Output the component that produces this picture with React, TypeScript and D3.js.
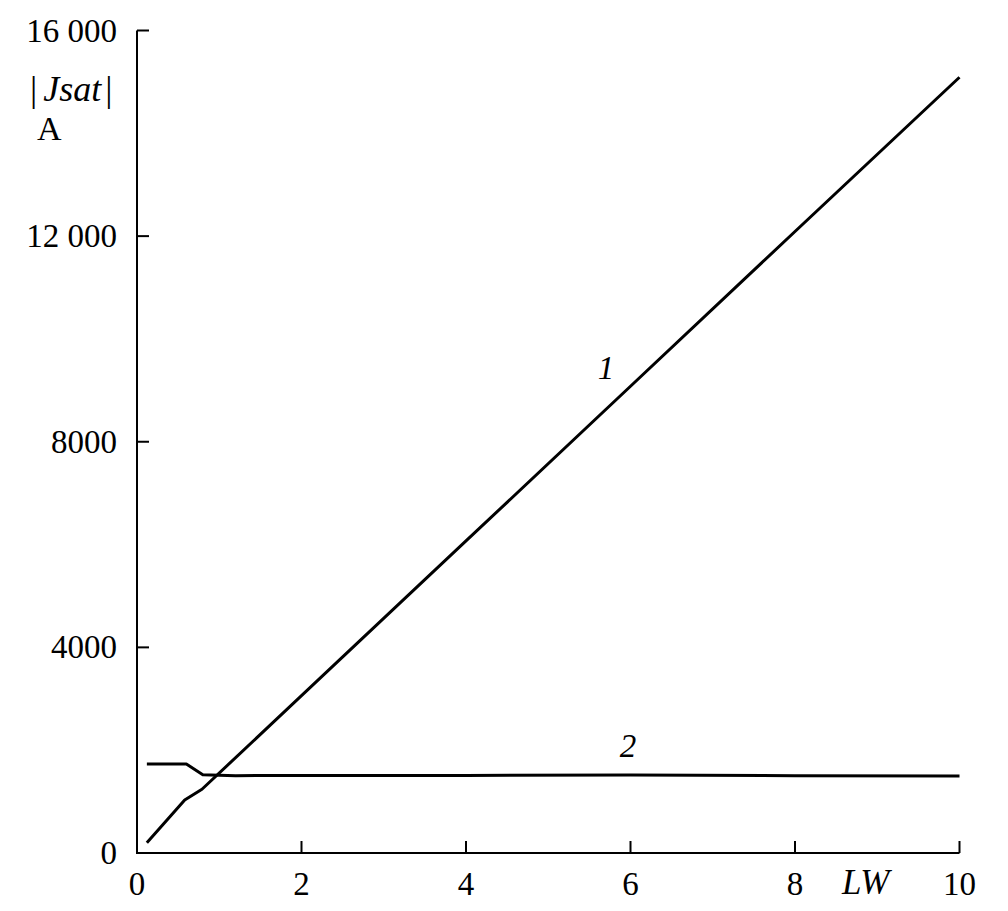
import React from "react";
import * as d3 from "d3";

const curve1X = [0.12, 0.58, 0.79, 2, 4, 6, 8, 10];
const curve1Y = [200, 1030, 1240, 3060, 6070, 9080, 12090, 15090];
const curve2X = [0.12, 0.6, 0.8, 1.2, 2, 4, 6, 8, 10];
const curve2Y = [1730, 1730, 1520, 1505, 1510, 1510, 1515, 1505, 1500];
const xTicks = [0, 2, 4, 6, 8, 10];
const yTicks = [0, 4000, 8000, 12000, 16000];
const yTickLabels = ["0", "4000", "8000", "12 000", "16 000"];

export default function App() {
  const W = 1008, H = 911;
  const x = d3.scaleLinear().domain([0, 10]).range([137, 959.5]);
  const y = d3.scaleLinear().domain([0, 16000]).range([853, 30.5]);
  const line = d3.line<[number, number]>().x(d => x(d[0])).y(d => y(d[1]));
  const d1 = line(curve1X.map((v, i) => [v, curve1Y[i]]) as [number, number][]) || "";
  const d2 = line(curve2X.map((v, i) => [v, curve2Y[i]]) as [number, number][]) || "";
  const font = "'Liberation Serif', 'Times New Roman', serif";
  const fs = 33;
  return (
    <svg width={W} height={H} style={{ position: "absolute", left: 0, top: 0, background: "#fff" }} fontFamily={font}>
      <rect width={W} height={H} fill="#fff" />
      <path d={`M${x(0)},${y(16000)} L${x(0)},${y(0)} L${x(10)},${y(0)}`} fill="none" stroke="#000" strokeWidth={2} />
      {yTicks.slice(1).map(t => (
        <line key={"yt" + t} x1={x(0)} x2={x(0) + 12} y1={y(t)} y2={y(t)} stroke="#000" strokeWidth={2} />
      ))}
      {xTicks.slice(1).map(t => (
        <line key={"xt" + t} x1={x(t)} x2={x(t)} y1={y(0)} y2={y(0) - 12} stroke="#000" strokeWidth={2} />
      ))}
      {yTicks.map((t, i) => (
        <text key={"yl" + t} x={117} y={y(t) + 11} textAnchor="end" fontSize={fs}>{yTickLabels[i]}</text>
      ))}
      {xTicks.map(t => (
        <text key={"xl" + t} x={x(t)} y={895} textAnchor="middle" fontSize={fs}>{t}</text>
      ))}
      <text x={30} y={101} fontSize={36}>
        <tspan>|</tspan><tspan fontStyle="italic" dx={6}>Jsat</tspan><tspan dx={4}>|</tspan>
      </text>
      <text x={37} y={140} fontSize={34}>A</text>
      <text x={842} y={894} fontSize={35} fontStyle="italic">LW</text>
      <path d={d1} fill="none" stroke="#000" strokeWidth={3} strokeLinejoin="round" />
      <path d={d2} fill="none" stroke="#000" strokeWidth={3} strokeLinejoin="round" />
      <text x={606} y={379} fontSize={fs} fontStyle="italic" textAnchor="middle">1</text>
      <text x={628} y={757} fontSize={fs} fontStyle="italic" textAnchor="middle">2</text>
    </svg>
  );
}
